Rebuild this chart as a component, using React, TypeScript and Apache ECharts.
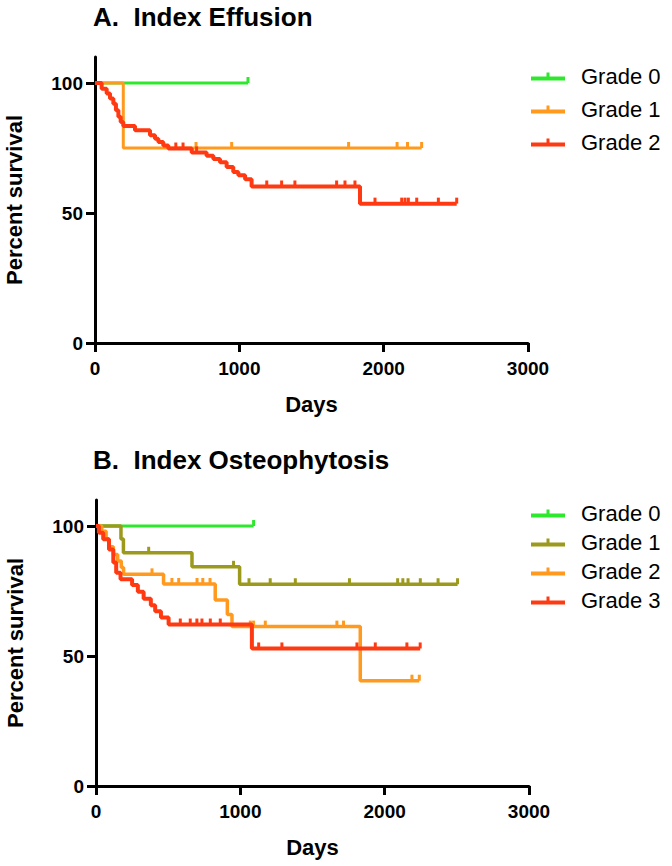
import React, { useEffect, useRef } from 'react';
import * as echarts from 'echarts';

const FONT = '"Liberation Sans", Arial, Helvetica, sans-serif';

// Axis ticks
const xTicks = [0, 1000, 2000, 3000];
const yTicks = [0, 50, 100];
const yMax = 110;

// ---------- Panel A: Index Effusion ----------
const titleA = 'A.  Index Effusion';
const namesA = ['Grade 0', 'Grade 1', 'Grade 2'];
const colorsA = ['#2ee82e', '#ff9a1f', '#ff3a12'];
const widthsA = [3, 3, 4];
const stepsA0: number[][] = [[0, 100], [1060, 100]];
const censorA0 = [1060];
const stepsA1: number[][] = [[0, 100], [196, 75], [2263, 75]];
const censorA1 = [700, 947, 1757, 2093, 2165, 2263];
const stepsA2: number[][] = [
  [0, 100], [46, 97.8], [81, 96], [104, 94], [127, 92], [145, 89.5], [162, 87], [178, 85],
  [196, 83.5], [277, 81.8], [381, 79.9], [416, 78.6], [439, 77.3], [473, 76], [508, 74.8],
  [670, 73.3], [773, 72], [820, 70.8], [866, 69.5], [912, 67.7], [958, 65.8], [993, 64.5],
  [1040, 63], [1085, 60.2], [1836, 53.6], [2506, 53.6],
];
const censorA2 = [560, 610, 704, 1190, 1293, 1385, 1674, 1732, 1801, 1940, 2125, 2148, 2171, 2229, 2379, 2506];

// ---------- Panel B: Index Osteophytosis ----------
const titleB = 'B.  Index Osteophytosis';
const namesB = ['Grade 0', 'Grade 1', 'Grade 2', 'Grade 3'];
const colorsB = ['#2ee82e', '#9b9a1c', '#ff9a1f', '#ff3a12'];
const widthsB = [3, 3.5, 3.5, 4];
const stepsB0: number[][] = [[0, 100], [1092, 100]];
const censorB0 = [1092];
const stepsB1: number[][] = [[0, 100], [173, 95], [190, 89.7], [665, 84.3], [995, 77.6], [2505, 77.6]];
const censorB1 = [365, 953, 1060, 1207, 1381, 1756, 2090, 2126, 2162, 2247, 2370, 2505];
const stepsB2: number[][] = [
  [0, 100], [40, 98], [70, 95], [90, 92], [120, 89], [150, 86.5], [175, 84], [191, 81.4],
  [468, 77.7], [826, 71.5], [910, 66], [942, 61.3], [1831, 40.5], [2240, 40.5],
];
const censorB2 = [388, 526, 573, 700, 740, 790, 1069, 1092, 1173, 1669, 1715, 2189, 2240];
const stepsB3: number[][] = [
  [0, 100], [20, 97.4], [50, 94.9], [90, 91], [120, 86], [140, 82], [170, 79.5], [250, 77.3],
  [290, 74.7], [330, 72], [380, 69.5], [410, 67.2], [450, 64.8], [503, 62.1], [1080, 52.9], [2246, 52.9],
];
const censorB3 = [584, 653, 699, 734, 792, 861, 1127, 1288, 1808, 1935, 2154, 2246];

const panelA = { steps: [stepsA0, stepsA1, stepsA2], censors: [censorA0, censorA1, censorA2], names: namesA, colors: colorsA, widths: widthsA };
const panelB = { steps: [stepsB0, stepsB1, stepsB2, stepsB3], censors: [censorB0, censorB1, censorB2, censorB3], names: namesB, colors: colorsB, widths: widthsB };

function levelAt(steps: number[][], d: number) {
  let v = steps[0][1];
  for (const [x, y] of steps) if (x <= d) v = y;
  return v;
}

function buildData(steps: number[][], censors: number[]) {
  const pts: any[] = steps.map(([x, y]) => ({ value: [x, y], symbol: 'none', k: 0 }));
  censors.forEach((c) => pts.push({ value: [c, levelAt(steps, c)], symbol: 'rect', k: 1 }));
  pts.sort((a, b) => a.value[0] - b.value[0] || a.k - b.k);
  return pts.map((p) => ({ value: p.value, symbol: p.symbol }));
}

const LEGEND_ICON = 'path://M0,0L0,0M0,5L34,5L34,9L0,9ZM15.5,1L18.5,1L18.5,5L15.5,5Z';

function makeSeries(panel: any, idx: number, prefix: string) {
  return panel.steps.map((s: number[][], i: number) => ({
    type: 'line',
    name: prefix + '|' + panel.names[i],
    xAxisIndex: idx,
    yAxisIndex: idx,
    step: 'end',
    data: buildData(s, panel.censors[i]),
    symbol: 'rect',
    symbolSize: [3, 6],
    symbolOffset: [0, -3],
    showSymbol: true,
    lineStyle: { color: panel.colors[i], width: panel.widths[i] },
    itemStyle: { color: panel.colors[i], borderWidth: 0 },
    silent: true,
    emphasis: { disabled: true },
    z: 2 + i,
  }));
}

function makeLegend(panel: any, prefix: string, top: number, gap: number) {
  return {
    data: panel.names.map((n: string) => prefix + '|' + n),
    orient: 'vertical',
    left: 531,
    top,
    padding: 0,
    itemWidth: 34,
    itemHeight: 9,
    itemGap: gap,
    icon: LEGEND_ICON,
    selectedMode: false,
    itemStyle: { borderWidth: 0 },
    formatter: (name: string) => name.split('|')[1],
    textStyle: { fontFamily: FONT, fontSize: 22, color: '#000', lineHeight: 22, padding: [0, 0, 0, 11] },
  };
}

const axisText = { fontFamily: FONT, fontWeight: 'bold' as const, color: '#000' };

function makeX(i: number) {
  return {
    type: 'value',
    gridIndex: i,
    min: xTicks[0],
    max: xTicks[xTicks.length - 1],
    interval: xTicks[1] - xTicks[0],
    name: 'Days',
    nameLocation: 'middle',
    nameGap: 50,
    nameTextStyle: { ...axisText, fontSize: 22 },
    axisLine: { onZero: false, lineStyle: { color: '#000', width: 3 } },
    axisTick: { show: true, length: 9, lineStyle: { color: '#000', width: 3 } },
    axisLabel: { ...axisText, fontSize: 19, margin: 16, formatter: (v: number) => String(v) },
    splitLine: { show: false },
  };
}

function makeY(i: number) {
  return {
    type: 'value',
    gridIndex: i,
    min: 0,
    max: yMax,
    name: 'Percent survival',
    nameLocation: 'middle',
    nameGap: 70,
    nameRotate: 90,
    nameTextStyle: { ...axisText, fontSize: 22 },
    axisLine: { onZero: false, lineStyle: { color: '#000', width: 3 } },
    axisTick: { show: true, length: 9, customValues: yTicks, lineStyle: { color: '#000', width: 3 } },
    axisLabel: { ...axisText, fontSize: 19, margin: 12, customValues: yTicks, formatter: (v: number) => String(v) },
    splitLine: { show: false },
  };
}

export default function App() {
  const ref = useRef<HTMLDivElement>(null);
  useEffect(() => {
    document.body.style.margin = '0';
    const chart = echarts.init(ref.current!, null, { renderer: 'svg' });
    chart.setOption({
      animation: false,
      backgroundColor: '#fff',
      title: [
        { text: titleA, left: 93, top: 4, padding: 0, textStyle: { ...axisText, fontSize: 26 } },
        { text: titleB, left: 93, top: 447, padding: 0, textStyle: { ...axisText, fontSize: 26 } },
      ],
      legend: [makeLegend(panelA, 'A', 65, 11), makeLegend(panelB, 'B', 502, 7)],
      grid: [
        { left: 95, top: 57, width: 433, height: 286, containLabel: false, outerBoundsMode: 'none' },
        { left: 96, top: 500, width: 433, height: 286, containLabel: false, outerBoundsMode: 'none' },
      ],
      xAxis: [makeX(0), makeX(1)],
      yAxis: [makeY(0), makeY(1)],
      series: [...makeSeries(panelA, 0, 'A'), ...makeSeries(panelB, 1, 'B')],
    });
    return () => chart.dispose();
  }, []);
  return <div ref={ref} style={{ position: 'absolute', left: 0, top: 0, width: 672, height: 866 }} />;
}
